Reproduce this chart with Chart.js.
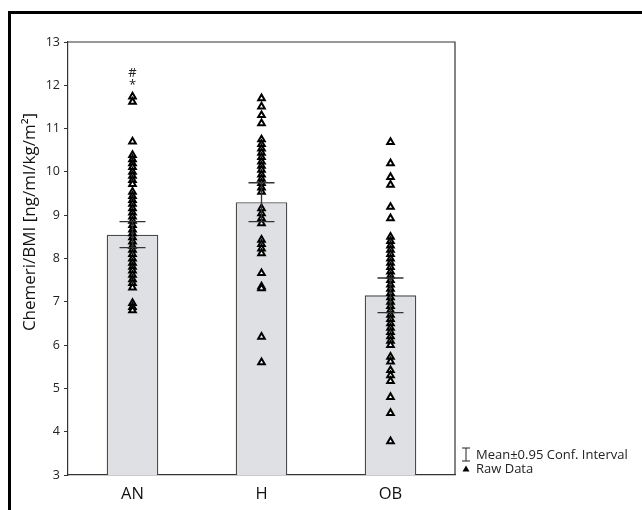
<!DOCTYPE html>
<html>
<head>
<meta charset="utf-8">
<script src="https://cdn.jsdelivr.net/npm/chart.js@4"></script>
<style>
    html, body { margin: 0; padding: 0; background: #fff; }
    #wrap { position: relative; width: 642px; height: 510px; overflow: hidden; }
    #frame { position: absolute; left: 8px; top: 11px; width: 700px; height: 600px; border: 3px solid #000; box-sizing: border-box; pointer-events: none; }
    canvas { position: absolute; left: 0; top: 0; }
</style>
</head>
<body>
<div id="wrap">
    <canvas id="chart" width="642" height="510"></canvas>
    <div id="frame"></div>
</div>
<script>
// Groups and summary values
const categories = ['AN', 'H', 'OB'];
const means = [8.55, 9.3, 7.15];
const ciLow = [8.25, 8.85, 6.75];
const ciHigh = [8.85, 9.75, 7.55];

// Raw data
const rawAN = [11.74, 11.62, 10.7, 10.39, 10.29, 10.2, 10.11, 10.0, 9.91, 9.81, 9.72, 9.54, 9.44, 9.35, 9.26,
    9.16, 9.06, 8.97, 8.87, 8.77, 8.67, 8.58, 8.49, 8.39, 8.29, 8.2, 8.1, 8.0, 7.9, 7.81, 7.72, 7.62,
    7.52, 7.43, 7.33, 6.97, 6.88, 6.8];
const rawH = [11.7, 11.51, 11.31, 11.12, 10.75, 10.64, 10.54, 10.44, 10.34, 10.24, 10.14, 10.05, 9.94, 9.84,
    9.74, 9.64, 9.54, 9.16, 9.04, 8.93, 8.81, 8.43, 8.33, 8.23, 8.12, 7.66, 7.35, 7.31, 6.19, 5.6];
const rawOB = [10.69, 10.2, 9.88, 9.7, 9.19, 8.93, 8.5, 8.4, 8.3, 8.2, 8.1, 8.0, 7.9, 7.8, 7.7, 7.6, 7.5,
    7.4, 7.3, 7.2, 7.1, 7.0, 6.9, 6.8, 6.7, 6.6, 6.5, 6.4, 6.3, 6.2, 6.1, 6.0, 5.73, 5.62, 5.42, 5.3,
    5.17, 4.8, 4.43, 3.78];

// Significance marks above AN
const marks = [{ cat: 'AN', y: 12.28, text: '#' }, { cat: 'AN', y: 12.0, text: '*' }];

const yTitle = 'Chemeri/BMI [ng/ml/kg/m\u00b2]';
const FONT = '"Open Sans", "Noto Sans", sans-serif';

function rawSet(cat, values) {
    return {
        type: 'line',
        showLine: false,
        data: values.map(v => ({ x: cat, y: v })),
        pointStyle: 'triangle',
        pointRadius: 3.8,
        pointBorderWidth: 2,
        pointBorderColor: '#000',
        pointBackgroundColor: '#fff',
        order: 0
    };
}

const extras = {
    id: 'extras',
    afterDatasetsDraw(chart) {
        const { ctx, chartArea, scales: { x, y } } = chart;
        ctx.save();
        // top and right frame
        ctx.strokeStyle = '#333';
        ctx.lineWidth = 1.2;
        ctx.beginPath();
        ctx.moveTo(chartArea.left, chartArea.top);
        ctx.lineTo(chartArea.right, chartArea.top);
        ctx.lineTo(chartArea.right, chartArea.bottom);
        ctx.stroke();

        // error bars
        categories.forEach((cat, i) => {
            const cx = x.getPixelForValue(i);
            const y1 = y.getPixelForValue(ciLow[i]);
            const y2 = y.getPixelForValue(ciHigh[i]);
            ctx.strokeStyle = '#333';
            ctx.lineWidth = 1.3;
            ctx.beginPath();
            ctx.moveTo(cx, y1);
            ctx.lineTo(cx, y2);
            ctx.moveTo(cx - 13, y1);
            ctx.lineTo(cx + 13, y1);
            ctx.moveTo(cx - 13, y2);
            ctx.lineTo(cx + 13, y2);
            ctx.stroke();
        });

        // significance marks
        ctx.fillStyle = '#222';
        ctx.font = '13px ' + FONT;
        ctx.textAlign = 'center';
        ctx.textBaseline = 'middle';
        marks.forEach(m => {
            ctx.fillText(m.text, x.getPixelForValue(categories.indexOf(m.cat)), y.getPixelForValue(m.y));
        });

        // y axis title
        ctx.save();
        ctx.translate(30, 222);
        ctx.rotate(-Math.PI / 2);
        ctx.fillStyle = '#111';
        ctx.font = '17px ' + FONT;
        ctx.fillText(yTitle, 0, 0);
        ctx.restore();

        // legend
        const lx = chartArea.right + 11;
        const ly1 = 455, ly2 = 469;
        ctx.strokeStyle = '#222';
        ctx.lineWidth = 1;
        ctx.beginPath();
        ctx.moveTo(lx, ly1 - 7); ctx.lineTo(lx, ly1 + 6);
        ctx.moveTo(lx - 4, ly1 - 7); ctx.lineTo(lx + 4, ly1 - 7);
        ctx.moveTo(lx - 4, ly1 + 6); ctx.lineTo(lx + 4, ly1 + 6);
        ctx.stroke();
        ctx.fillStyle = '#000';
        ctx.beginPath();
        ctx.moveTo(lx, ly2 - 3.5);
        ctx.lineTo(lx + 3.5, ly2 + 2.5);
        ctx.lineTo(lx - 3.5, ly2 + 2.5);
        ctx.closePath();
        ctx.fill();
        ctx.fillStyle = '#222';
        ctx.font = '13px ' + FONT;
        ctx.textAlign = 'left';
        ctx.fillText('Mean\u00b10.95 Conf. Interval', lx + 10, ly1);
        ctx.fillText('Raw Data', lx + 10, ly2);
        ctx.restore();
    }
};

new Chart(document.getElementById('chart'), {
    type: 'bar',
    data: {
        labels: categories,
        datasets: [
            {
                data: means,
                backgroundColor: '#dfe0e3',
                borderColor: '#4a4a4a',
                borderWidth: 1.4,
                barPercentage: 0.4,
                categoryPercentage: 1,
                order: 1
            },
            rawSet('AN', rawAN),
            rawSet('H', rawH),
            rawSet('OB', rawOB)
        ]
    },
    options: {
        responsive: false,
        animation: false,
        layout: { padding: { left: 0, right: 187, top: 42, bottom: 0 } },
        plugins: { legend: { display: false }, tooltip: { enabled: false } },
        scales: {
            x: {
                grid: { display: false },
                border: { display: true, color: '#333', width: 1.2 },
                ticks: { color: '#111', font: { size: 16.5, family: FONT }, padding: 1 },
                afterFit(scale) { scale.height = 35; }
            },
            y: {
                min: 3,
                max: 13,
                ticks: { stepSize: 1, color: '#222', font: { size: 12.5, family: FONT }, padding: 4 },
                grid: { drawOnChartArea: false, tickLength: 4, color: '#333' },
                border: { display: true, color: '#333', width: 1.2 },
                afterFit(scale) { scale.width = 68; }
            }
        }
    },
    plugins: [extras]
});
</script>
</body>
</html>
